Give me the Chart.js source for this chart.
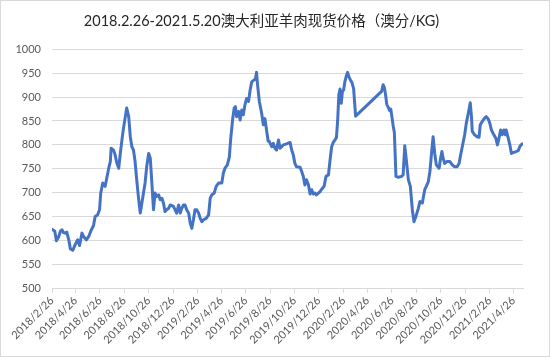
<!DOCTYPE html>
<html>
<head>
<meta charset="utf-8">
<script src="https://cdn.jsdelivr.net/npm/chart.js@4.4.1/dist/chart.umd.min.js"></script>
<style>
  html, body { margin: 0; padding: 0; background: #fff; }
  canvas { display: block; }
</style>
</head>
<body>
<canvas id="c" width="550" height="357"></canvas>
<script>
// ---- Data ----
const chartTitle = "2018.2.26-2021.5.20澳大利亚羊肉现货价格（澳分/KG)";
const startDate = "2018-02-26";
const endDate = "2021-05-20";
// days since 2018-02-26
const dayOffsets = [
  0, 7, 11, 17, 21, 25, 29, 33, 37, 42, 46, 52, 58, 64, 69, 75, 79, 86, 92, 97,
  104, 108, 114, 119, 122, 127, 133, 137, 142, 146, 148, 154, 158, 162, 167, 171, 175, 179, 183, 187,
  192, 196, 200, 204, 208, 212, 217, 221, 225, 229, 233, 237, 242, 246, 250, 254, 258, 262, 267, 271,
  275, 279, 283, 287, 292, 296, 304, 312, 317, 321, 325, 329, 333, 337, 342, 346, 350, 354, 358, 362,
  367, 371, 375, 379, 386, 392, 396, 400, 406, 411, 417, 425, 429, 433, 439, 444, 447, 452, 456, 459,
  462, 467, 471, 475, 479, 483, 487, 492, 496, 500, 506, 509, 512, 515, 519, 525, 529, 533, 537, 541,
  544, 550, 554, 558, 562, 567, 571, 575, 579, 587, 596, 600, 604, 608, 612, 621, 625, 629, 633, 637,
  642, 646, 650, 654, 658, 662, 667, 671, 675, 681, 686, 692, 696, 700, 704, 708, 712, 715, 718, 721,
  724, 727, 730, 733, 737, 740, 743, 747, 751, 755, 760, 825, 829, 832, 835, 838, 842, 845, 848, 851,
  854, 857, 861, 867, 875, 879, 883, 887, 892, 897, 902, 906, 911, 917, 921, 927, 933, 937, 942, 946,
  950, 954, 958, 962, 969, 972, 976, 979, 983, 989, 996, 1002, 1008, 1014, 1019, 1022, 1027, 1033, 1037, 1042,
  1047, 1050, 1052, 1058, 1064, 1069, 1072, 1077, 1083, 1087, 1092, 1096, 1100, 1106, 1111, 1115, 1119, 1123, 1127, 1131,
  1135, 1137, 1142, 1146, 1150, 1156, 1162, 1167, 1172, 1177, 1179
];
const prices = [
  623, 619, 599, 608, 619, 622, 616, 615, 617, 601, 582, 579, 591, 601, 589, 615, 608, 601, 608, 619,
  631, 650, 653, 664, 699, 720, 713, 730, 751, 765, 793, 789, 779, 763, 751, 782, 810, 835, 856, 877,
  859, 817, 796, 789, 765, 727, 685, 657, 678, 699, 720, 754, 782, 772, 720, 664, 699, 692, 695, 685,
  688, 678, 660, 664, 667, 674, 671, 657, 674, 657, 667, 674, 674, 664, 657, 636, 625, 643, 664, 664,
  657, 646, 639, 643, 646, 653, 688, 695, 699, 713, 720, 720, 741, 751, 758, 775, 810, 852, 877, 880,
  859, 870, 852, 873, 863, 884, 897, 891, 915, 932, 936, 937, 952, 922, 891, 865, 842, 855, 831, 808,
  807, 796, 803, 793, 789, 810, 793, 796, 800, 802, 805, 789, 779, 761, 754, 753, 744, 734, 716, 727,
  716, 697, 706, 697, 699, 695, 699, 702, 707, 713, 734, 737, 768, 796, 805, 810, 815, 850, 905, 917,
  887, 912, 915, 932, 945, 952, 943, 936, 930, 918, 860, 912, 926, 920, 905, 885, 878, 872, 875, 858,
  840, 826, 734, 732, 734, 737, 798, 768, 727, 713, 664, 639, 650, 667, 681, 678, 706, 713, 723, 744,
  782, 817, 782, 758, 751, 768, 786, 772, 761, 765, 765, 758, 754, 754, 761, 775, 796, 821, 845, 866,
  888, 859, 828, 821, 817, 816, 842, 849, 856, 859, 854, 845, 831, 821, 814, 800, 814, 831, 821, 831,
  821, 831, 814, 800, 782, 784, 786, 788, 798, 802, 802
];
const tickDates = [
  "2018/2/26", "2018/4/26", "2018/6/26", "2018/8/26", "2018/10/26", "2018/12/26",
  "2019/2/26", "2019/4/26", "2019/6/26", "2019/8/26", "2019/10/26", "2019/12/26",
  "2020/2/26", "2020/4/26", "2020/6/26", "2020/8/26", "2020/10/26", "2020/12/26",
  "2021/2/26", "2021/4/26"
];
const yMin = 500, yMax = 1000, yStep = 50;

// ---- helpers ----
function dayNumber(str) {
  const p = str.split(/[\/-]/).map(Number);
  return Date.UTC(p[0], p[1] - 1, p[2]) / 86400000;
}
const day0 = dayNumber(startDate);
const lastDay = dayNumber(endDate) - day0;
const tickOffsets = tickDates.map(d => dayNumber(d) - day0);
const tickLabelMap = {};
tickOffsets.forEach((o, i) => { tickLabelMap[o] = tickDates[i]; });

const points = dayOffsets.map((d, i) => ({ x: d, y: prices[i] }));

const bgPlugin = {
  id: 'bg',
  beforeDraw(chart) {
    const ctx = chart.ctx;
    ctx.save();
    ctx.fillStyle = '#ffffff';
    ctx.fillRect(0, 0, chart.width, chart.height);
    ctx.restore();
  },
  afterDraw(chart) {
    const ctx = chart.ctx;
    ctx.save();
    ctx.strokeStyle = '#d9d9d9';
    ctx.lineWidth = 1;
    ctx.strokeRect(0.5, 0.5, chart.width - 1, chart.height - 1);
    ctx.restore();
  }
};

const tickFont = { family: "Lato, 'Liberation Sans', sans-serif", size: 11 };

new Chart(document.getElementById('c'), {
  type: 'line',
  data: {
    datasets: [{
      data: points,
      borderColor: '#4472C4',
      backgroundColor: '#4472C4',
      borderWidth: 3,
      pointRadius: 0,
      pointHoverRadius: 0,
      tension: 0,
      fill: false,
      borderJoinStyle: 'round',
      borderCapStyle: 'round'
    }]
  },
  options: {
    responsive: false,
    devicePixelRatio: 1,
    animation: false,
    events: [],
    layout: { padding: { left: 0, right: 27, top: 0, bottom: 0 } },
    plugins: {
      legend: { display: false },
      tooltip: { enabled: false },
      title: {
        display: true,
        text: chartTitle,
        color: '#262626',
        font: { family: "Lato, 'Noto Sans CJK SC', sans-serif", size: 14.5, weight: 'normal' },
        padding: { top: 13, bottom: 19 }
      }
    },
    scales: {
      x: {
        type: 'linear',
        min: 0,
        max: lastDay,
        afterBuildTicks(scale) {
          scale.ticks = tickOffsets.map(v => ({ value: v }));
        },
        afterFit(scale) { scale.height = 69; },
        ticks: {
          autoSkip: false,
          minRotation: 45,
          maxRotation: 45,
          padding: 1,
          color: '#595959',
          font: tickFont,
          callback(v) { return tickLabelMap[v] || ''; }
        },
        grid: {
          drawOnChartArea: false,
          drawTicks: true,
          tickLength: 5,
          color: '#d9d9d9'
        },
        border: { display: true, color: '#d9d9d9', width: 1 }
      },
      y: {
        min: yMin,
        max: yMax,
        afterFit(scale) { scale.width = 52; },
        ticks: {
          stepSize: yStep,
          padding: 11,
          color: '#595959',
          font: tickFont,
          callback(v) { return String(v); }
        },
        grid: {
          color: '#d9d9d9',
          lineWidth: 1,
          drawTicks: false
        },
        border: { display: false }
      }
    }
  },
  plugins: [bgPlugin]
});
</script>
</body>
</html>
